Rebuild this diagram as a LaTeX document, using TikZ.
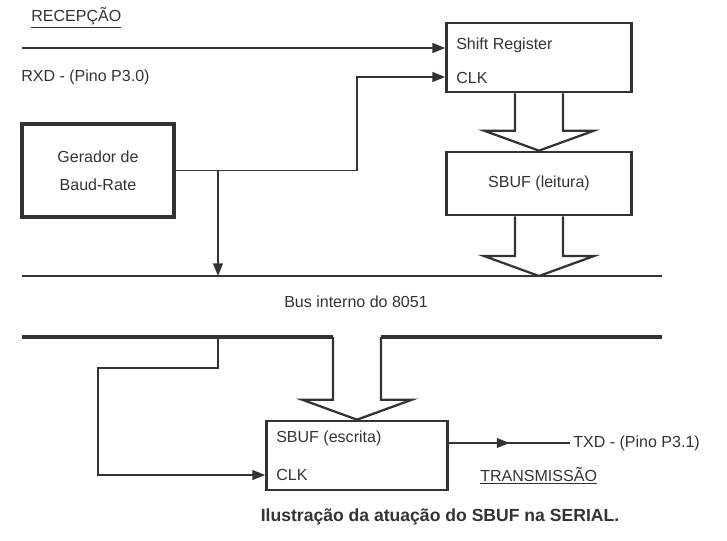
\documentclass[tikz,border=0pt]{standalone}
\usepackage{fontspec}
\setmainfont{Liberation Sans}
\usetikzlibrary{arrows.meta,calc,decorations.markings}
\definecolor{ink}{gray}{0.2}
\newcommand{\fatarrow}[2]{%
    \draw [style=hollow] ($(#1)+(-24,0)$) -- ($(#2)+(-24,-20)$) -- ($(#2)+(-55,-20)$)
        -- (#2) -- ($(#2)+(55,-20)$) -- ($(#2)+(24,-20)$) -- ($(#1)+(24,0)$);}

\begin{document}
\begin{tikzpicture}[x=0.025cm, y=-0.025cm, every node/.style={font=\fontsize{11.4}{13}\selectfont, text=ink}]
        \pgfdeclarelayer{nodelayer}
        \pgfdeclarelayer{edgelayer}
        \pgfsetlayers{main,nodelayer,edgelayer}
        \tikzstyle{txt}=[fill=none, draw=none, inner sep=0pt, anchor=west]
        \tikzstyle{block}=[draw=ink, line width=1.9pt, shape=rectangle, inner sep=0pt]
        \tikzstyle{point}=[inner sep=0pt, shape=coordinate]
        \tikzstyle{wire}=[draw=ink, line width=1pt]
        \tikzstyle{arrow}=[-{Triangle[length=9pt, width=7pt]}, wire]
        %\tikzstyle{hollow}=[draw=ink, line width=1.6pt, line join=round]
        \tikzstyle{hollow}=[draw=ink, line width=1.6pt, line join=miter]
        \tikzstyle{bus}=[draw=ink, line width=2.2pt]
        \useasboundingbox (0,0) rectangle (727,540);
        \begin{pgfonlayer}{nodelayer}
            \node [style=block, minimum width=4.625cm, minimum height=1.725cm] (1) at (539, 57.5) {};
            \node [style=block, minimum width=4.625cm, minimum height=1.575cm] (2) at (539, 183.5) {SBUF (leitura)};
            \node [style=block, minimum width=4.525cm, minimum height=1.725cm] (3) at (357, 455.5) {};
            \node [style=block, line width=2.2pt, minimum width=3.8cm, minimum height=2.325cm, align=center, font=\fontsize{11.4}{20}\selectfont] (4) at (98, 170.5) {Gerador de\\Baud-Rate};

            \node [style=txt] (5) at (31, 18) {\underline{RECEPÇÃO}};
            \node [style=txt] (6) at (21, 77) {RXD - (Pino P3.0)};
            \node [style=txt] (7) at (456, 45) {Shift Register};
            \node [style=txt] (8) at (456, 78) {CLK};
            \node [style=txt, anchor=center] (9) at (356, 302) {Bus interno do 8051};
            \node [style=txt] (10) at (276, 438) {SBUF (escrita)};
            \node [style=txt] (11) at (276, 475) {CLK};
            \node [style=txt] (12) at (573, 443) {TXD - (Pino P3.1)};
            \node [style=txt] (13) at (480, 476) {\underline{TRANSMISSÃO}};
            \node [style=txt, anchor=center, font=\bfseries\fontsize{12.5}{15}\selectfont] (14) at (440, 517) {Ilustração da atuação do SBUF na SERIAL.};

            \node [style=point] (20) at (22, 48) {};
            \node [style=point] (21) at (357, 77) {};
            \node [style=point] (22) at (218, 170.5) {};
            \node [style=point] (23) at (22, 276) {};
            \node [style=point] (24) at (662, 276) {};
            \node [style=point] (25) at (22, 337) {};
            \node [style=point] (26) at (333, 337) {};
            \node [style=point] (27) at (381, 337) {};
            \node [style=point] (28) at (662, 337) {};
            \node [style=point] (29) at (98, 368) {};
            \node [style=point] (30) at (98, 475) {};
            \node [style=point] (31) at (570, 443) {};
            \node [style=point] (32) at (2.south |- 23) {};
            \node [style=point] (33) at (3.north |- 25) {};
        \end{pgfonlayer}
        \begin{pgfonlayer}{edgelayer}
            \draw [style=arrow] (20) -- (20 -| 1.west);
            \draw [style=arrow] (4.east) -| (21) -- (21 -| 1.west);
            \draw [style=arrow] (22) -- (22 |- 23);
            \draw [style=bus, line width=1.8pt] (23) -- (24);
            \draw [style=bus] (25) -- (26);
            \draw [style=bus] (27) -- (28);

            \fatarrow{1.south}{2.north}
            \fatarrow{2.south}{32}
            \fatarrow{33}{3.north}

            \draw [style=arrow] (22 |- 25) |- (29) -- (30) -- (30 -| 3.west);
            \draw [style=wire, postaction=decorate, decoration={markings, mark=at position 0.5 with {\arrow{Triangle[length=9pt, width=7pt]}}}] (31 -| 3.east) -- (31);
        \end{pgfonlayer}
    \end{tikzpicture}
\end{document}
